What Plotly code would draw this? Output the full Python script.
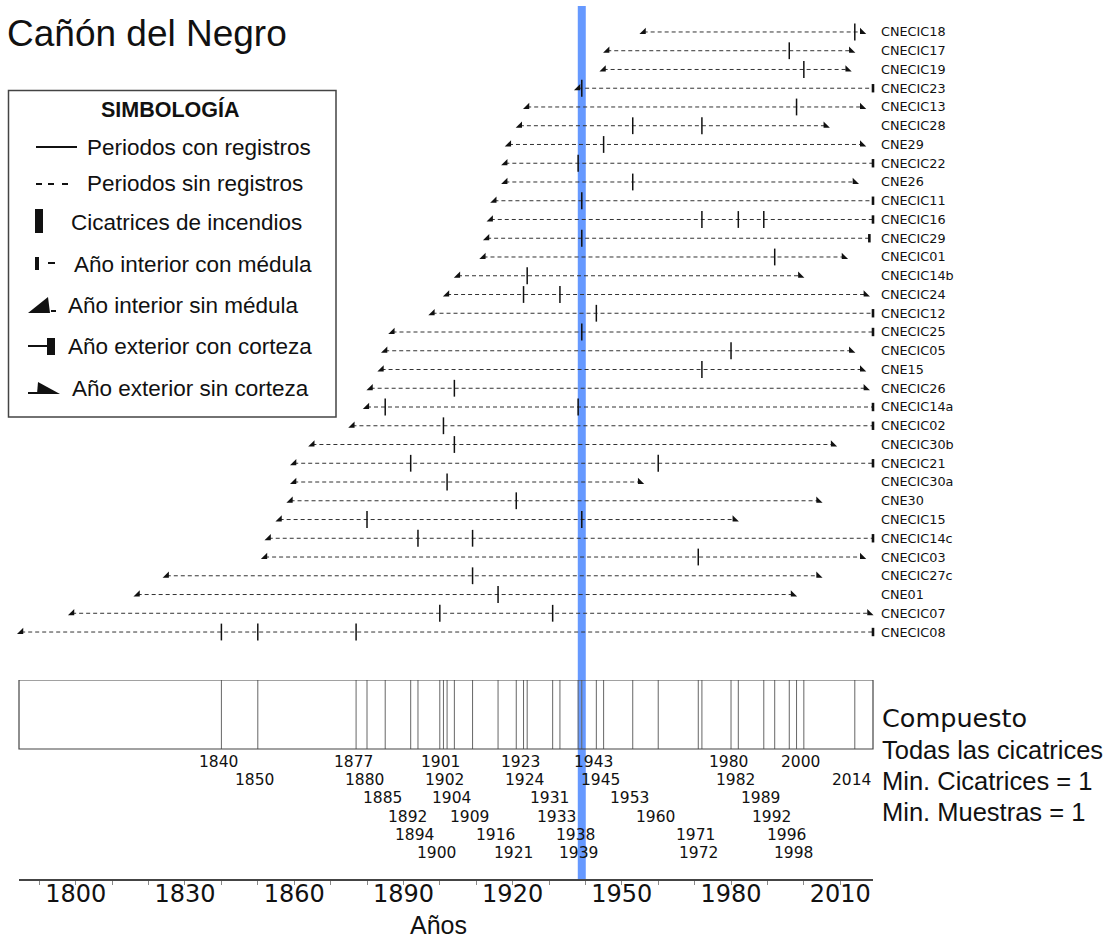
import plotly.graph_objects as go

# ---------------- data ----------------
names = ["CNECIC18", "CNECIC17", "CNECIC19", "CNECIC23", "CNECIC13", "CNECIC28", "CNE29",
         "CNECIC22", "CNE26", "CNECIC11", "CNECIC16", "CNECIC29", "CNECIC01", "CNECIC14b",
         "CNECIC24", "CNECIC12", "CNECIC25", "CNECIC05", "CNE15", "CNECIC26", "CNECIC14a",
         "CNECIC02", "CNECIC30b", "CNECIC21", "CNECIC30a", "CNE30", "CNECIC15", "CNECIC14c",
         "CNECIC03", "CNECIC27c", "CNE01", "CNECIC07", "CNECIC08"]
inner_years = [1956, 1946, 1945, 1938, 1924, 1922, 1919, 1918, 1918, 1915, 1914, 1913, 1912,
               1905, 1902, 1898, 1887, 1885, 1884, 1881, 1880, 1876, 1865, 1860, 1860, 1859,
               1856, 1853, 1852, 1825, 1817, 1799, 1785]
outer_years = [2016, 2013, 2012, 2019, 2016, 2006, 2016, 2019, 2014, 2019, 2019, 2018, 2011,
               1999, 2017, 2019, 2019, 2013, 2016, 2017, 2019, 2019, 2008, 2019, 1955, 2004,
               1981, 2019, 2016, 2004, 1997, 2018, 2019]
outer_bark = [False, False, False, True, False, False, False, True, False, True, True, True, False,
              False, False, True, True, False, False, False, True, True, False, True, False, False,
              False, True, False, False, False, False, True]
fire_scars = [[2014], [1996], [2000], [1939], [1998], [1953, 1972], [1945], [1938], [1953],
              [1939], [1972, 1982, 1989], [1939], [1992], [1924], [1923, 1933], [1943], [1939],
              [1980], [1972], [1904], [1885, 1938], [1901], [1904], [1892, 1960], [1902],
              [1921], [1880, 1939], [1894, 1909], [1971], [1909], [1916], [1900, 1931],
              [1840, 1850, 1877]]
highlight_year = 1939
axis_labels = [1800, 1830, 1860, 1890, 1920, 1950, 1980, 2010]
axis_ticks = list(range(1790, 2020, 10))
x_range = [1784.4, 2019]

# ---------------- geometry helpers (page pixels -> paper) ----------------
W, H = 1118, 940
L, R, T, B = 19, 873, 0, 879


def px(x):
    return (x - L) / (R - L)


def py(y):
    return 1 - (y - T) / (B - T)


FONT_V = "DejaVu Sans"
FONT_A = "Liberation Sans"
INK = "#111"

fig = go.Figure()

# dashed periods
lx, ly = [], []
for n, s, e in zip(names, inner_years, outer_years):
    lx += [s, e, None]
    ly += [n, n, None]
fig.add_trace(go.Scatter(x=lx, y=ly, mode="lines", line=dict(color="#333", width=1, dash="4px,3px"),
                         hoverinfo="skip", cliponaxis=False))

# fire scars
sx, sy = [], []
for n, sc in zip(names, fire_scars):
    for yr in sc:
        sx.append(yr)
        sy.append(n)
fig.add_trace(go.Scatter(x=sx, y=sy, mode="markers", cliponaxis=False,
                         marker=dict(symbol="line-ns-open", size=12, color=INK,
                                     line=dict(color=INK, width=1.5))))

# inner year without pith
fig.add_trace(go.Scatter(x=inner_years, y=names, mode="markers", cliponaxis=False,
                         marker=dict(symbol="triangle-se", size=7, color=INK, line=dict(width=0))))

# outer years
bx = [e for e, b in zip(outer_years, outer_bark) if b]
by = [n for n, b in zip(names, outer_bark) if b]
nx = [e for e, b in zip(outer_years, outer_bark) if not b]
ny = [n for n, b in zip(names, outer_bark) if not b]
fig.add_trace(go.Scatter(x=bx, y=by, mode="markers", cliponaxis=False,
                         marker=dict(symbol="line-ns-open", size=6, color=INK,
                                     line=dict(color=INK, width=2.6))))
fig.add_trace(go.Scatter(x=nx, y=ny, mode="markers", cliponaxis=False,
                         marker=dict(symbol="triangle-sw", size=7, color=INK, line=dict(width=0))))

# composite
comp_years = sorted(set(y for sc in fire_scars for y in sc))
BOX_H = 69
cx, cy = [], []
for yr in comp_years:
    cx += [yr, yr, None]
    cy += [0, BOX_H, None]
fig.add_trace(go.Scatter(x=cx, y=cy, xaxis="x", yaxis="y2", mode="lines",
                         line=dict(color="#666", width=1), hoverinfo="skip"))
fig.add_shape(type="rect", xref="x domain", yref="y2", x0=0, x1=1, y0=0, y1=BOX_H,
              line=dict(color="#444", width=1.2), layer="above")

# stacked composite labels
row, prev = 0, None
for yr in comp_years:
    if prev is None or yr - prev >= 20 or row >= 6:
        row = 1
    else:
        row += 1
    prev = yr
    fig.add_annotation(x=yr, y=82 + (row - 1) * 18.2, xref="x", yref="y2", text=str(yr),
                       showarrow=False, xshift=-3, font=dict(family=FONT_V, size=15.5, color=INK))

# highlight line
fig.add_shape(type="line", xref="x", yref="paper", x0=highlight_year, x1=highlight_year,
              y0=0, y1=py(6), line=dict(color="#6699ff", width=8), layer="below")

# title & side texts
fig.add_annotation(x=px(5), y=py(33), xref="paper", yref="paper", text="Cañón del Negro",
                   showarrow=False, xanchor="left", yanchor="middle",
                   font=dict(family=FONT_A, size=37, color=INK))
side_texts = [("Compuesto", 718, FONT_V, 25.5), ("Todas las cicatrices", 750, FONT_A, 25.5),
              ("Min. Cicatrices = 1", 781, FONT_A, 25.5), ("Min. Muestras = 1", 812, FONT_A, 25.5)]
for t, yy, fam, sz in side_texts:
    fig.add_annotation(x=px(880), y=py(yy), xref="paper", yref="paper", text=t, showarrow=False,
                       xanchor="left", yanchor="middle", font=dict(family=fam, size=sz, color=INK))
fig.add_annotation(x=px(438), y=py(925), xref="paper", yref="paper", text="Años", showarrow=False,
                   xanchor="center", yanchor="middle", font=dict(family=FONT_A, size=25, color=INK))

# legend box
fig.add_shape(type="rect", xref="paper", yref="paper", x0=px(8.5), x1=px(336), y0=py(417), y1=py(90.5),
              line=dict(color="#444", width=1.5), fillcolor="white", layer="above")
fig.add_annotation(x=px(170), y=py(109), xref="paper", yref="paper", text="<b>SIMBOLOGÍA</b>",
                   showarrow=False, xanchor="center", yanchor="middle",
                   font=dict(family=FONT_A, size=21.5, color=INK))
legend_items = [("Periodos con registros", 85, 147), ("Periodos sin registros", 85, 184),
                ("Cicatrices de incendios", 69, 223), ("Año interior con médula", 72, 264),
                ("Año interior sin médula", 66, 305), ("Año exterior con corteza", 66, 346),
                ("Año exterior sin corteza", 70, 388)]
for t, xx, yy in legend_items:
    fig.add_annotation(x=px(xx), y=py(yy), xref="paper", yref="paper", text=t, showarrow=False,
                       xanchor="left", yanchor="middle", font=dict(family=FONT_A, size=22.5, color=INK))


def seg(x0, y0, x1, y1, w=2):
    fig.add_shape(type="line", xref="paper", yref="paper", x0=px(x0), y0=py(y0), x1=px(x1), y1=py(y1),
                  line=dict(color=INK, width=w), layer="above")


def box(x0, y0, x1, y1):
    fig.add_shape(type="rect", xref="paper", yref="paper", x0=px(x0), y0=py(y0), x1=px(x1), y1=py(y1),
                  line=dict(width=0), fillcolor=INK, layer="above")


def poly(pts):
    d = "M " + " L ".join(f"{px(a):.5f},{py(b):.5f}" for a, b in pts) + " Z"
    fig.add_shape(type="path", xref="paper", yref="paper", path=d, line=dict(width=0),
                  fillcolor=INK, layer="above")


seg(36, 147, 77, 147)
for a, b in [(36, 42), (48, 54), (62, 68)]:
    seg(a, 184, b, 184)
box(35, 209, 43, 233)
box(35, 257, 39, 270)
seg(48, 263, 55, 263)
poly([(28, 313), (50, 313), (48, 297)])
seg(51, 311, 56, 311)
seg(28, 346, 47, 346)
box(47, 338, 55, 355)
seg(28, 393, 40, 393)
poly([(38, 382), (60, 394), (37, 394)])

fig.update_layout(
    width=W, height=H, margin=dict(l=L, r=W - R, t=T, b=H - B),
    paper_bgcolor="white", plot_bgcolor="white", showlegend=False,
    xaxis=dict(range=x_range, anchor="y2", showgrid=False, zeroline=False, showline=True,
               linecolor="#444", linewidth=1.5, ticks="outside", ticklen=4, tickcolor="#888",
               tickvals=axis_ticks, ticktext=[str(v) if v in axis_labels else "" for v in axis_ticks],
               tickfont=dict(family=FONT_V, size=24, color=INK), ticklabelstandoff=-12),
    yaxis=dict(domain=[py(641.4), py(22.6)], type="category", categoryorder="array",
               categoryarray=names, range=[len(names) - 0.5, -0.5], side="right", anchor="x",
               showgrid=False, zeroline=False, showline=False, ticks="",
               tickfont=dict(family=FONT_V, size=12.8, color=INK), ticklabelstandoff=7),
    yaxis2=dict(domain=[0, py(680)], range=[B - 680, 0], anchor="x", visible=False),
)

fig.write_html("out.html")
